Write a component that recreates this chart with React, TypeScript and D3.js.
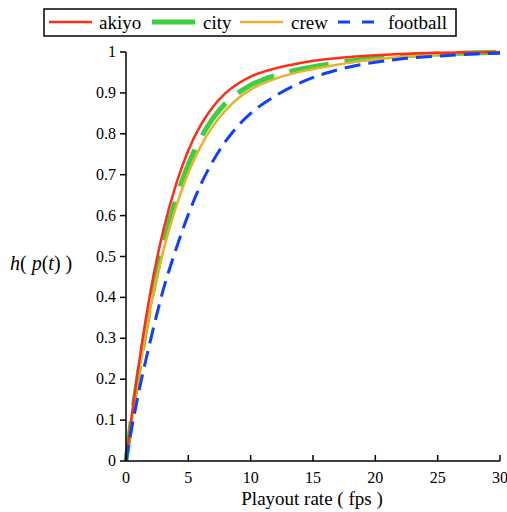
import React from "react";
import * as d3 from "d3";

const xs = [0, 0.5, 1, 2, 3, 4, 5, 6, 7, 8, 9, 10, 12, 14, 16, 18, 20, 22, 25, 28, 30];
const akiyo = [0, 0.12, 0.23, 0.42, 0.565, 0.675, 0.76, 0.822, 0.867, 0.9, 0.923, 0.94, 0.96, 0.973, 0.982, 0.988, 0.992, 0.995, 0.998, 0.999, 1.0];
const city = [0, 0.115, 0.215, 0.39, 0.53, 0.64, 0.725, 0.79, 0.839, 0.875, 0.9, 0.919, 0.943, 0.958, 0.969, 0.978, 0.985, 0.99, 0.995, 0.998, 1.0];
const crew = [0, 0.11, 0.21, 0.38, 0.515, 0.62, 0.705, 0.77, 0.82, 0.858, 0.887, 0.908, 0.935, 0.952, 0.964, 0.974, 0.982, 0.988, 0.994, 0.998, 0.999];
const football = [0, 0.088, 0.165, 0.3, 0.42, 0.517, 0.603, 0.676, 0.735, 0.782, 0.82, 0.85, 0.893, 0.925, 0.948, 0.964, 0.975, 0.983, 0.99, 0.995, 0.997];

const xTicks = [0, 5, 10, 15, 20, 25, 30];
const yTicks = [0, 0.1, 0.2, 0.3, 0.4, 0.5, 0.6, 0.7, 0.8, 0.9, 1];

const seriesNames = ["akiyo", "city", "crew", "football"];
const seriesData = [akiyo, city, crew, football];
const colors = ["#ff2e12", "#3cd040", "#e8b02e", "#1040ff"];
const widths = [2.5, 5, 2.5, 3];
const dashes = ["none", "40,16", "none", "16,8"];
const legendDashes = ["none", "none", "none", "12,12"];
const drawOrder = [1, 2, 0, 3];

const FONT = "Liberation Serif";

export default function App() {
  const W = 507, H = 512;
  const x = d3.scaleLinear().domain([0, 30]).range([126, 500]);
  const y = d3.scaleLinear().domain([0, 1]).range([461, 52]);
  const line = d3
    .line<[number, number]>()
    .x((d) => x(d[0]))
    .y((d) => y(d[1]))
    .curve(d3.curveMonotoneX);

  const legendX = [49, 152, 240, 338];
  const legendTextX = [99, 203, 291, 388];

  return (
    <svg width={W} height={H} style={{ position: "absolute", left: 0, top: 0, background: "#fff" }}>
      {drawOrder.map((i) => (
        <path
          key={seriesNames[i]}
          d={line(xs.map((v, k) => [v, seriesData[i][k]] as [number, number])) || ""}
          fill="none"
          stroke={colors[i]}
          strokeWidth={widths[i]}
          strokeDasharray={dashes[i]}
        />
      ))}
      <line x1={126} x2={126} y1={52} y2={461} stroke="#000" strokeWidth={1.5} />
      <line x1={126} x2={500} y1={461} y2={461} stroke="#000" strokeWidth={1.5} />
      {yTicks.map((t) => (
        <g key={"y" + t}>
          <line x1={120} x2={126} y1={y(t)} y2={y(t)} stroke="#000" strokeWidth={1.5} />
          <text x={116} y={y(t) + 5} textAnchor="end" fontSize={16} fontFamily={FONT}>
            {String(t)}
          </text>
        </g>
      ))}
      {xTicks.map((t) => (
        <g key={"x" + t}>
          <line x1={x(t)} x2={x(t)} y1={455} y2={461} stroke="#000" strokeWidth={1.5} />
          <text x={x(t)} y={483} textAnchor="middle" fontSize={16} fontFamily={FONT}>
            {String(t)}
          </text>
        </g>
      ))}
      <text x={312} y={505} textAnchor="middle" fontSize={19} fontFamily={FONT}>
        Playout rate ( fps )
      </text>
      <text x={10} y={270} fontSize={20} fontFamily={FONT}>
        <tspan fontStyle="italic">h</tspan>( <tspan fontStyle="italic">p</tspan>(<tspan fontStyle="italic">t</tspan>) )
      </text>
      <rect x={44} y={9} width={412} height={27} fill="#fff" stroke="#000" strokeWidth={1.5} />
      {seriesNames.map((n, i) => (
        <g key={"lg" + n}>
          <line
            x1={legendX[i]}
            x2={legendX[i] + 43}
            y1={22}
            y2={22}
            stroke={colors[i]}
            strokeWidth={widths[i]}
            strokeDasharray={legendDashes[i]}
          />
          <text x={legendTextX[i]} y={29} fontSize={19} fontFamily={FONT}>
            {n}
          </text>
        </g>
      ))}
    </svg>
  );
}
